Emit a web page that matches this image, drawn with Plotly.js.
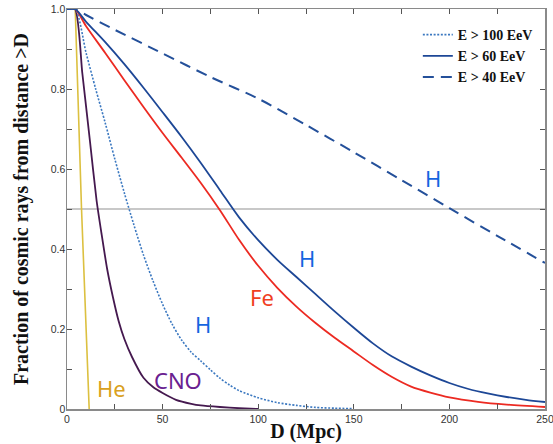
<!DOCTYPE html>
<html>
<head>
<meta charset="utf-8">
<script src="https://cdn.plot.ly/plotly-3.0.1.min.js"></script>
<style>html,body{margin:0;padding:0;background:#fff;}#chart{width:553px;height:444px;}</style>
</head>
<body>
<div id="chart"></div>
<script>
// Distance D (Mpc) and fraction of cosmic rays from distance > D
const heX  = [0, 4.3, 7.6, 11.6];
const heY  = [1, 1, 0.5, 0];

const cnoX = [0, 4.2, 8, 12, 15.5, 18, 21, 24, 27, 30, 34, 40, 45, 50, 57, 65, 70, 80, 90, 100];
const cnoY = [1, 1, 0.84, 0.67, 0.52, 0.44, 0.35, 0.28, 0.22, 0.175, 0.13, 0.078, 0.055, 0.04, 0.023, 0.013, 0.009, 0.005, 0.002, 0];

const h100X = [0, 4.2, 10, 15, 20, 25, 30, 35, 40, 45, 50, 55, 60, 65, 70, 75, 80, 85, 90, 100, 110, 120, 130, 140, 150];
const h100Y = [1, 1, 0.89, 0.80, 0.715, 0.625, 0.54, 0.46, 0.385, 0.32, 0.262, 0.212, 0.172, 0.142, 0.12, 0.098, 0.077, 0.06, 0.046, 0.028, 0.016, 0.009, 0.004, 0.002, 0.001];

const feX = [0, 4.2, 10, 20, 30, 40, 50, 60, 70, 80, 90, 100, 110, 120, 130, 140, 150, 160, 170, 180, 190, 200, 215, 230, 250];
const feY = [1, 1, 0.957, 0.89, 0.822, 0.755, 0.69, 0.628, 0.565, 0.497, 0.423, 0.358, 0.303, 0.256, 0.215, 0.178, 0.144, 0.11, 0.08, 0.056, 0.041, 0.029, 0.018, 0.011, 0.005];

const h60X = [0, 4.2, 10, 20, 30, 40, 50, 60, 70, 80, 90, 100, 110, 120, 130, 140, 150, 160, 170, 180, 190, 200, 210, 220, 230, 240, 250];
const h60Y = [1, 1, 0.968, 0.917, 0.862, 0.803, 0.742, 0.68, 0.615, 0.547, 0.479, 0.422, 0.373, 0.33, 0.287, 0.244, 0.203, 0.164, 0.131, 0.106, 0.084, 0.065, 0.05, 0.039, 0.03, 0.023, 0.0175];

const h40X = [0, 4.2, 10, 25, 50, 75, 100, 125, 150, 175, 200, 225, 250];
const h40Y = [1, 1, 0.985, 0.948, 0.889, 0.830, 0.776, 0.71, 0.642, 0.572, 0.502, 0.433, 0.365];

const legendNames = ["E > 100 EeV", "E > 60 EeV", "E > 40 EeV"];
const xTickVals = [0, 50, 100, 150, 200, 250];
const xTickText = ["0", "50", "100", "150", "200", "250"];
const yTickVals = [0, 0.2, 0.4, 0.6, 0.8, 1.0];
const yTickText = ["0", "0.2", "0.4", "0.6", "0.8", "1.0"];
const refLevel = 0.5;

const traces = [
  {x: heX, y: heY, mode: 'lines', line: {color: '#dcc040', width: 1.6}, showlegend: false, hoverinfo: 'skip'},
  {x: cnoX, y: cnoY, mode: 'lines', line: {color: '#45194f', width: 1.8, shape: 'spline', smoothing: 0.6}, showlegend: false, hoverinfo: 'skip'},
  {x: h100X, y: h100Y, mode: 'lines', name: legendNames[0], line: {color: '#3b78c0', width: 1.6, dash: '2px,1.6px', shape: 'spline', smoothing: 0.8}},
  {x: feX, y: feY, mode: 'lines', line: {color: '#ec2a22', width: 1.8, shape: 'spline', smoothing: 0.8}, showlegend: false, hoverinfo: 'skip'},
  {x: h60X, y: h60Y, mode: 'lines', name: legendNames[1], line: {color: '#1d4796', width: 1.8, shape: 'spline', smoothing: 0.8}},
  {x: h40X, y: h40Y, mode: 'lines', name: legendNames[2], line: {color: '#24509a', width: 2, dash: '11px,7px', shape: 'spline', smoothing: 0.8}}
];

const tickFont = {family: 'Liberation Sans, Arial, sans-serif', size: 10.5, color: '#333'};
const titleFont = {family: 'Liberation Serif, Times New Roman, serif', size: 20, color: '#111', weight: 'bold'};
const labelFont = (c) => ({family: 'Noto Sans, sans-serif', size: 22, color: c});

const layout = {
  width: 553, height: 444,
  margin: {l: 67, r: 8, t: 9, b: 35},
  paper_bgcolor: '#fff', plot_bgcolor: '#fff',
  xaxis: {
    range: [0, 250], tickmode: 'array', tickvals: xTickVals, ticktext: xTickText,
    ticks: 'inside', ticklen: 5, tickwidth: 1, tickcolor: '#555',
    minor: {tickmode: 'array', tickvals: [25, 75, 125, 175, 225], ticks: 'inside', ticklen: 5, tickwidth: 1, tickcolor: '#555', showgrid: false},
    showline: true, linecolor: '#8a8a8a', linewidth: 1.5, mirror: 'ticks',
    showgrid: false, zeroline: false, tickfont: tickFont,
    ticklabeloverflow: 'allow', ticklabelstandoff: 0,
    title: {text: 'D (Mpc)', font: titleFont, standoff: 0}, automargin: false
  },
  yaxis: {
    range: [0, 1], tickmode: 'array', tickvals: yTickVals, ticktext: yTickText,
    ticks: 'inside', ticklen: 5, tickwidth: 1, tickcolor: '#555',
    minor: {tickmode: 'array', tickvals: [0.1, 0.3, 0.5, 0.7, 0.9], ticks: 'inside', ticklen: 5, tickwidth: 1, tickcolor: '#555', showgrid: false},
    showline: true, linecolor: '#8a8a8a', linewidth: 1.5, mirror: 'ticks',
    showgrid: false, zeroline: false, tickfont: tickFont,
    ticklabeloverflow: 'allow', ticklabelstandoff: -2,
    title: {text: 'Fraction of cosmic rays from distance >D', font: titleFont, standoff: 17}, automargin: false
  },
  shapes: [
    {type: 'line', xref: 'paper', x0: 0, x1: 1, yref: 'y', y0: refLevel, y1: refLevel, line: {color: '#c8c8c8', width: 2}, layer: 'below'}
  ],
  legend: {
    x: 0.985, xanchor: 'right', y: 0.975, yanchor: 'top',
    bgcolor: 'rgba(255,255,255,0)', borderwidth: 0,
    font: {family: 'Liberation Serif, Times New Roman, serif', size: 14, color: '#111', weight: 'bold'},
    tracegroupgap: 0
  },
  annotations: [
    {x: 23.5, y: 0.0525, xref: 'x', yref: 'y', text: 'He', showarrow: false, font: labelFont('#d9a020')},
    {x: 58, y: 0.0725, xref: 'x', yref: 'y', text: 'CNO', showarrow: false, font: labelFont('#6a2090')},
    {x: 71, y: 0.2125, xref: 'x', yref: 'y', text: 'H', showarrow: false, font: labelFont('#1565e0')},
    {x: 101.8, y: 0.28, xref: 'x', yref: 'y', text: 'Fe', showarrow: false, font: labelFont('#f0401e')},
    {x: 125.3, y: 0.3775, xref: 'x', yref: 'y', text: 'H', showarrow: false, font: labelFont('#1565e0')},
    {x: 191.6, y: 0.5775, xref: 'x', yref: 'y', text: 'H', showarrow: false, font: labelFont('#1565e0')}
  ]
};

Plotly.newPlot('chart', traces, layout, {staticPlot: true, displayModeBar: false});
</script>
</body>
</html>
